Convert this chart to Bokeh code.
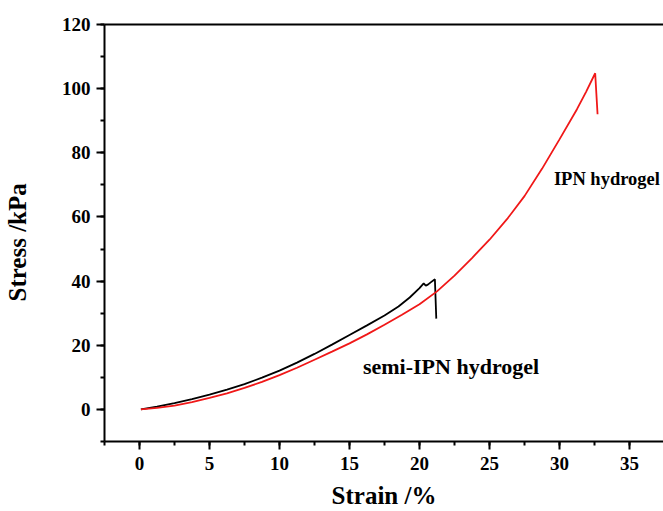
from bokeh.plotting import figure
from bokeh.models import Range1d, LinearAxis, SingleIntervalTicker, FixedTicker, Label
from bokeh.embed import file_html
from bokeh.resources import INLINE

# ---- data ----
strain_semi = [0.1, 1.25, 2.5, 3.75, 5, 6.25, 7.5, 8.75, 10, 11.25, 12.5, 13.75, 15,
               16.25, 17.5, 18.5, 19.3, 20.0, 20.3, 20.45, 20.6, 20.8, 21.1, 21.2]
stress_semi = [0, 0.9, 2.0, 3.2, 4.6, 6.2, 7.9, 9.9, 12.1, 14.6, 17.3, 20.2, 23.2,
               26.2, 29.3, 32.1, 34.9, 37.8, 39.3, 38.6, 38.9, 39.6, 40.6, 28.3]

strain_ipn = [0.1, 1.25, 2.5, 3.75, 5, 6.25, 7.5, 8.75, 10, 11.25, 12.5, 13.75, 15,
              16.25, 17.5, 18.75, 20, 21.25, 22.5, 23.75, 25, 26.25, 27.5, 28.75,
              30, 31.25, 31.9, 32.55, 32.72]
stress_ipn = [0, 0.5, 1.2, 2.3, 3.6, 5.0, 6.7, 8.6, 10.7, 13.0, 15.5, 18.0, 20.6,
              23.4, 26.4, 29.5, 32.8, 36.8, 41.7, 47.2, 52.9, 59.3, 66.5, 75.0,
              84.2, 93.6, 99.0, 104.8, 92.0]

x_label = "Strain /%"
y_label = "Stress /kPa"
semi_name = "semi-IPN hydrogel"
ipn_name = "IPN hydrogel"

FONT = "Liberation Serif"

p = figure(width=663, height=511, output_backend="svg", toolbar_location=None,
           x_range=Range1d(-2.5, 37.43), y_range=Range1d(-10, 120),
           x_axis_type=None, y_axis_type=None,
           min_border_left=104, min_border_right=0, min_border_top=24, min_border_bottom=69)
p.outline_line_color = None
p.background_fill_color = "white"
p.border_fill_color = "white"


def style_axis(ax):
    ax.axis_line_width = 2
    ax.axis_line_color = "black"
    ax.major_tick_line_width = 2
    ax.minor_tick_line_width = 2
    ax.major_tick_line_color = "black"
    ax.minor_tick_line_color = "black"
    ax.major_tick_in = 0
    ax.major_tick_out = 8
    ax.minor_tick_in = 0
    ax.minor_tick_out = 4
    ax.major_label_text_font = FONT
    ax.major_label_text_font_style = "bold"
    ax.major_label_text_font_size = "19px"
    ax.major_label_text_color = "black"
    ax.axis_label_text_font = FONT
    ax.axis_label_text_font_style = "bold"
    ax.axis_label_text_font_size = "25px"
    ax.axis_label_text_color = "black"


xaxis = LinearAxis(ticker=SingleIntervalTicker(interval=5, num_minor_ticks=2),
                   axis_label=x_label)
style_axis(xaxis)
xaxis.major_label_standoff = 7
xaxis.axis_label_standoff = 9
p.add_layout(xaxis, "below")

yaxis = LinearAxis(ticker=SingleIntervalTicker(interval=20, num_minor_ticks=2),
                   axis_label=y_label + "\u00a0\u00a0\u00a0")
style_axis(yaxis)
yaxis.major_label_standoff = 6
yaxis.axis_label_standoff = 28
p.add_layout(yaxis, "left")

top = LinearAxis(ticker=FixedTicker(ticks=[]))
top.axis_line_width = 2
top.axis_line_color = "black"
top.major_tick_line_color = None
top.minor_tick_line_color = None
top.major_label_text_font_size = "0px"
p.add_layout(top, "above")

p.line(strain_semi, stress_semi, line_color="black", line_width=1.8)
p.line(strain_ipn, stress_ipn, line_color="#f01818", line_width=1.8)

p.add_layout(Label(x=29.6, y=71.8, text=ipn_name, text_font=FONT, text_font_style="bold",
                   text_font_size="18.5px", text_color="black", text_align="left",
                   text_baseline="alphabetic"))
p.add_layout(Label(x=15.96, y=13.3, text=semi_name, text_font=FONT, text_font_style="bold",
                   text_font_size="22px", text_color="black", text_align="left",
                   text_baseline="alphabetic"))

open("out.html", "w").write(file_html(p, INLINE))
